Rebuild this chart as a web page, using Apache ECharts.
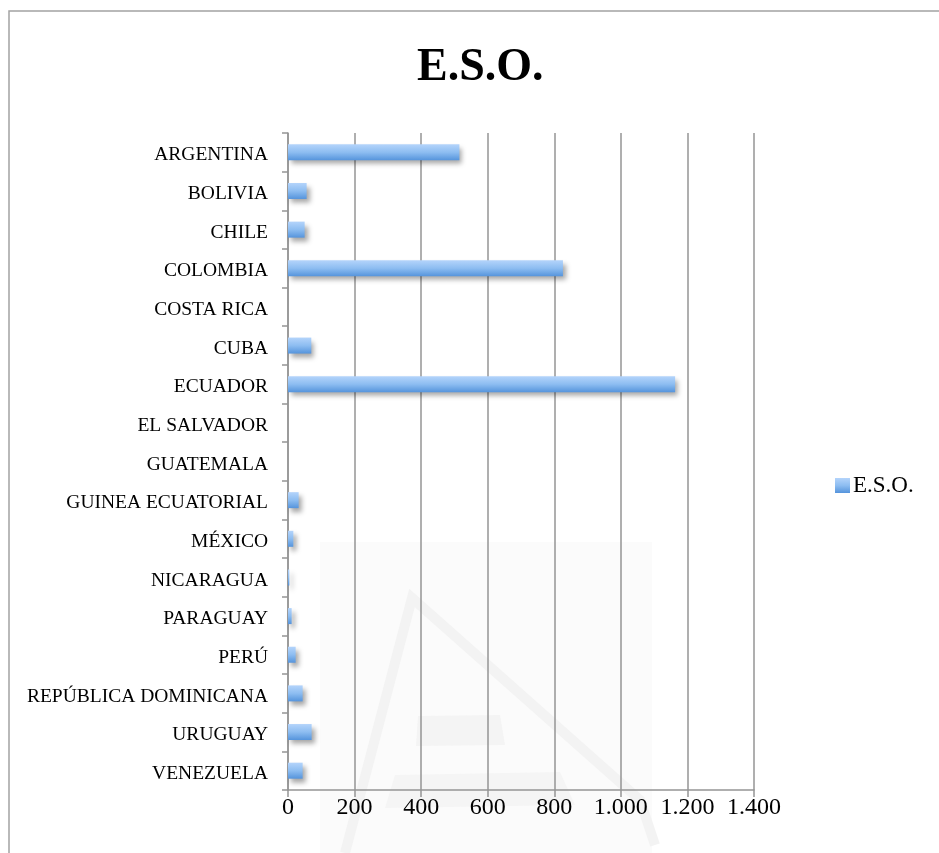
<!DOCTYPE html>
<html>
<head>
<meta charset="utf-8">
<script src="https://cdn.jsdelivr.net/npm/echarts@6/dist/echarts.min.js"></script>
<style>
  html, body { margin: 0; padding: 0; background: #ffffff; }
  #chart { width: 939px; height: 853px; }
</style>
</head>
<body>
<div id="chart"></div>
<script>
// Countries (top to bottom) and number of E.S.O. students for each
const countries = [
  'ARGENTINA', 'BOLIVIA', 'CHILE', 'COLOMBIA', 'COSTA RICA', 'CUBA',
  'ECUADOR', 'EL SALVADOR', 'GUATEMALA', 'GUINEA ECUATORIAL', 'MÉXICO',
  'NICARAGUA', 'PARAGUAY', 'PERÚ', 'REPÚBLICA DOMINICANA', 'URUGUAY', 'VENEZUELA'
];
const esoValues = [515, 56, 50, 826, 0, 70, 1163, 0, 0, 32, 16, 4, 11, 23, 44, 71, 44];
const seriesName = 'E.S.O.';
const xTicks = [0, 200, 400, 600, 800, 1000, 1200, 1400];

const serif = '"Liberation Serif", "DejaVu Serif", serif';
const gridColor = '#959595';

// Thousands separator with a dot, as in Spanish notation
function fmtThousands(v) {
  return String(v).replace(/\B(?=(\d{3})+(?!\d))/g, '.');
}

const chart = echarts.init(document.getElementById('chart'), null, { renderer: 'canvas' });

chart.setOption({
  backgroundColor: '#ffffff',
  animation: false,
  title: {
    text: seriesName,
    left: 412,
    top: 40,
    textStyle: { fontFamily: serif, fontSize: 46, fontWeight: 'bold', color: '#000' }
  },
  legend: {
    data: [seriesName],
    left: 830,
    top: 469,
    orient: 'vertical',
    itemWidth: 15,
    itemHeight: 15,
    itemGap: 4,
    icon: 'rect',
    textStyle: { fontFamily: serif, fontSize: 23, color: '#000', padding: [2, 0, 0, -2] }
  },
  graphic: [
    // outer frame of the chart area
    {
      type: 'rect', z: -10, silent: true,
      shape: { x: 9, y: 11, width: 960, height: 870 },
      style: { fill: 'none', stroke: '#a3a3a3', lineWidth: 1.5 }
    },
    // faint background emblem
    {
      type: 'rect', z: -20, silent: true,
      shape: { x: 320, y: 542, width: 332, height: 320 },
      style: { fill: '#fbfbfb' }
    },
    {
      type: 'polyline', z: -19, silent: true,
      shape: { points: [[345, 853], [412, 598], [640, 800], [655, 845]] },
      style: { fill: 'none', stroke: '#f3f3f3', lineWidth: 10 }
    },
    {
      type: 'polygon', z: -19, silent: true,
      shape: { points: [[418, 716], [500, 715], [505, 745], [416, 746]] },
      style: { fill: '#f4f4f4' }
    },
    {
      type: 'polygon', z: -19, silent: true,
      shape: { points: [[395, 775], [560, 772], [575, 805], [385, 808]] },
      style: { fill: '#f5f5f5' }
    }
  ],
  grid: { left: 288, right: 185, top: 133, bottom: 63, containLabel: false },
  xAxis: {
    type: 'value',
    min: xTicks[0],
    max: xTicks[xTicks.length - 1],
    interval: xTicks[1] - xTicks[0],
    axisLine: { show: true, lineStyle: { color: gridColor, width: 1.5 } },
    axisTick: { show: true, length: 7, lineStyle: { color: gridColor, width: 1.5 } },
    splitLine: { show: true, lineStyle: { color: gridColor, width: 1.5 } },
    axisLabel: {
      fontFamily: serif, fontSize: 24, color: '#000', margin: 6,
      formatter: fmtThousands
    }
  },
  yAxis: {
    type: 'category',
    data: countries,
    inverse: true,
    boundaryGap: true,
    axisLine: { show: true, lineStyle: { color: gridColor, width: 1.5 } },
    axisTick: { show: true, length: 6, alignWithLabel: false, lineStyle: { color: gridColor, width: 1.5 } },
    splitLine: { show: false },
    axisLabel: {
      margin: 20,
      formatter: function (v) { return '{c|' + v + '}'; },
      rich: {
        c: { fontFamily: serif, fontSize: 19.5, color: '#000', padding: [6, 0, 0, 0] }
      }
    }
  },
  series: [{
    name: seriesName,
    type: 'bar',
    data: esoValues,
    barWidth: 16,
    itemStyle: {
      color: new echarts.graphic.LinearGradient(0, 0, 0, 1, [
        { offset: 0, color: '#b4d4fb' },
        { offset: 0.5, color: '#8dbdf1' },
        { offset: 1, color: '#5594dc' }
      ]),
      shadowColor: 'rgba(0, 0, 0, 0.35)',
      shadowBlur: 5,
      shadowOffsetX: 3,
      shadowOffsetY: 4
    }
  }]
});
</script>
</body>
</html>
